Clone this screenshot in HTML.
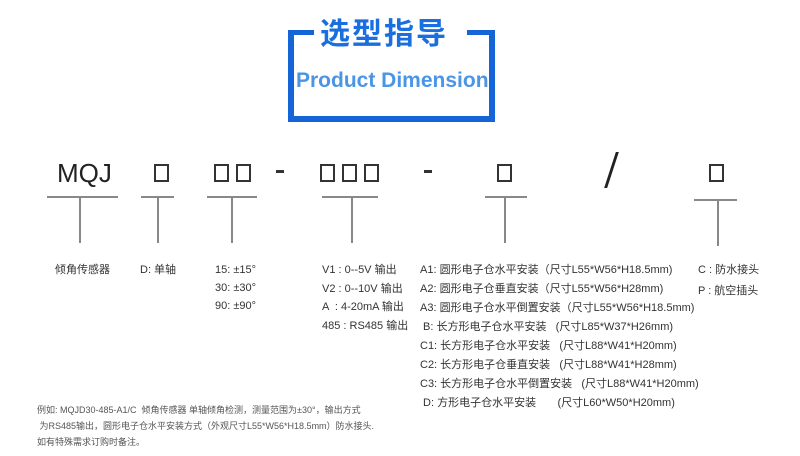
<!DOCTYPE html>
<html><head><meta charset="utf-8"><style>
body{margin:0;width:800px;height:456px;background:#fff;position:relative;overflow:hidden;font-family:"Liberation Sans","Noto Sans CJK SC",sans-serif;}
.a{position:absolute;white-space:nowrap;}
.bx{position:absolute;width:15px;height:18px;border:2px solid #333;box-sizing:border-box;top:164px;}
.h{position:absolute;height:2px;background:#888;}
.v{position:absolute;width:2px;background:#888;}
.l{position:absolute;font-size:11px;color:#333;white-space:nowrap;}
</style></head><body>
<div style="position:absolute;left:288px;top:30px;width:207px;height:92px;border:6px solid #1565d8;border-top:none;box-sizing:border-box"></div>
<div style="position:absolute;left:288px;top:30px;width:26px;height:5px;background:#1565d8"></div>
<div style="position:absolute;left:467px;top:30px;width:28px;height:5px;background:#1565d8"></div>
<div class="a" style="left:320px;top:13px;font-size:30px;font-weight:bold;color:#1a6fe0;letter-spacing:2px;font-family:'Noto Sans CJK SC',sans-serif;line-height:36px">选型指导</div>
<div class="a" style="left:296px;top:68px;font-size:21px;font-weight:bold;color:#4a95e6;line-height:26px">Product Dimension</div>

<div class="a" style="left:57px;top:158px;font-size:26px;color:#222;line-height:30px">MQJ</div>
<div class="bx" style="left:154px"></div>
<div class="bx" style="left:214px"></div><div class="bx" style="left:236px"></div>
<div class="a" style="left:276px;top:170px;width:8px;height:3px;background:#333"></div>
<div class="bx" style="left:320px"></div><div class="bx" style="left:342px"></div><div class="bx" style="left:364px"></div>
<div class="a" style="left:424px;top:170px;width:8px;height:3px;background:#333"></div>
<div class="bx" style="left:497px"></div>
<div class="a" style="left:610px;top:152px;width:3px;height:36px;background:#222;transform:skewX(-18deg)"></div>
<div class="bx" style="left:709px"></div>

<div class="h" style="left:47px;top:196px;width:71px"></div><div class="v" style="left:79px;top:197px;height:46px"></div>
<div class="h" style="left:141px;top:196px;width:33px"></div><div class="v" style="left:157px;top:197px;height:46px"></div>
<div class="h" style="left:207px;top:196px;width:50px"></div><div class="v" style="left:231px;top:197px;height:46px"></div>
<div class="h" style="left:322px;top:196px;width:56px"></div><div class="v" style="left:351px;top:197px;height:46px"></div>
<div class="h" style="left:485px;top:196px;width:42px"></div><div class="v" style="left:504px;top:197px;height:46px"></div>
<div class="h" style="left:694px;top:199px;width:43px"></div><div class="v" style="left:717px;top:200px;height:46px"></div>

<div class="l" style="left:55px;top:261px">倾角传感器</div>
<div class="l" style="left:140px;top:261px">D: 单轴</div>
<div class="l" style="left:215px;top:261px;line-height:18px">15: ±15°<br>30: ±30°<br>90: ±90°</div>
<div class="l" style="left:322px;top:261px;line-height:18.5px">V1 : 0--5V 输出<br>V2 : 0--10V 输出<br>A &nbsp;: 4-20mA 输出<br>485 : RS485 输出</div>
<div class="l" style="left:420px;top:261px;line-height:19px">A1: 圆形电子仓水平安装（尺寸L55*W56*H18.5mm)<br>A2: 圆形电子仓垂直安装（尺寸L55*W56*H28mm)<br>A3: 圆形电子仓水平倒置安装（尺寸L55*W56*H18.5mm)<br>&nbsp;B: 长方形电子仓水平安装 &nbsp;&nbsp;(尺寸L85*W37*H26mm)<br>C1: 长方形电子仓水平安装 &nbsp;&nbsp;(尺寸L88*W41*H20mm)<br>C2: 长方形电子仓垂直安装 &nbsp;&nbsp;(尺寸L88*W41*H28mm)<br>C3: 长方形电子仓水平倒置安装 &nbsp;&nbsp;(尺寸L88*W41*H20mm)<br>&nbsp;D: 方形电子仓水平安装 &nbsp;&nbsp;&nbsp;&nbsp;&nbsp;&nbsp;(尺寸L60*W50*H20mm)</div>
<div class="l" style="left:698px;top:260px;line-height:21px">C : 防水接头<br>P : 航空插头</div>
<div class="l" style="left:37px;top:402px;font-size:9px;color:#555;line-height:16px">例如: MQJD30-485-A1/C &nbsp;倾角传感器 单轴倾角检测，测量范围为±30°，输出方式<br>&nbsp;为RS485输出，圆形电子仓水平安装方式（外观尺寸L55*W56*H18.5mm）防水接头.<br>如有特殊需求订购时备注。</div>
</body></html>
